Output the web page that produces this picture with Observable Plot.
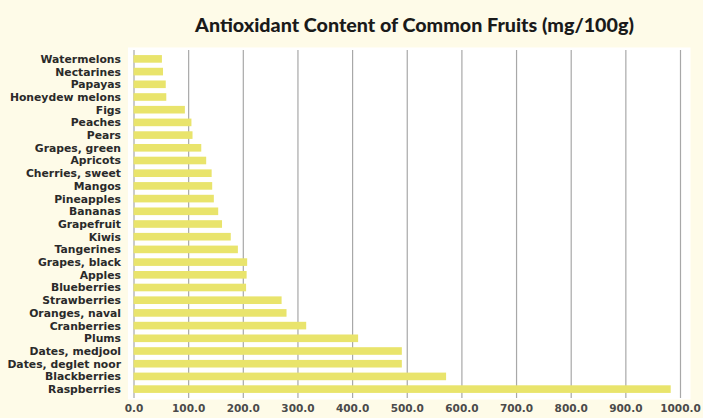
<!DOCTYPE html>
<html>
<head>
<meta charset="utf-8">
<script src="https://cdn.jsdelivr.net/npm/d3@7"></script>
<script src="https://cdn.jsdelivr.net/npm/@observablehq/plot@0.6"></script>
<style>
  html, body { margin: 0; padding: 0; background: #fefbe8; }
  #wrap { width: 703px; height: 418px; overflow: hidden; }
  #title { height: 45px; line-height: 50px; text-align: center; font-family: Lato, sans-serif; font-weight: 900; font-size: 19.7px; color: #1a1a1a; padding-left: 126px; box-sizing: border-box; white-space: nowrap; }
</style>
</head>
<body>
<div id="wrap">
  <div id="title">Antioxidant Content of Common Fruits (mg/100g)</div>
  <div id="chart"></div>
</div>
<script>
const fruits = ["Watermelons","Nectarines","Papayas","Honeydew melons","Figs","Peaches","Pears","Grapes, green","Apricots","Cherries, sweet","Mangos","Pineapples","Bananas","Grapefruit","Kiwis","Tangerines","Grapes, black","Apples","Blueberries","Strawberries","Oranges, naval","Cranberries","Plums","Dates, medjool","Dates, deglet noor","Blackberries","Raspberries"];
const values = [52,54,59,60,94,106,108,124,133,143,144,147,155,162,178,191,208,207,206,271,280,316,411,491,491,572,983];
const xTicks = [0,100,200,300,400,500,600,700,800,900,1000];

const data = fruits.map((f, i) => ({fruit: f, value: values[i]}));

const chart = Plot.plot({
  width: 703,
  height: 373,
  marginLeft: 133.5,
  marginRight: 23,
  marginTop: 5,
  marginBottom: 20,
  style: {background: "transparent", fontFamily: "DejaVu Sans", fontWeight: "bold"},
  x: {domain: [0, 1000]},
  y: {domain: fruits, padding: 0.4, round: false},
  marks: [
    Plot.frame({fill: "white", stroke: null, insetLeft: -6, insetRight: -10, insetTop: -3, insetBottom: -1}),
    Plot.ruleX(xTicks, {stroke: "#a8a8a8", strokeWidth: 1.2}),
    Plot.barX(data, {x: "value", y: "fruit", fill: "#e9e46c"}),
    Plot.axisX({ticks: xTicks, tickSize: 0, tickPadding: 6, tickFormat: d => d.toFixed(1), fontSize: 10.5, fill: "#4a4a4a", label: null}),
    Plot.axisY({tickSize: 0, tickPadding: 13, fontSize: 10.8, fill: "#2a2a2a", label: null})
  ]
});
document.getElementById("chart").appendChild(chart);
</script>
</body>
</html>
